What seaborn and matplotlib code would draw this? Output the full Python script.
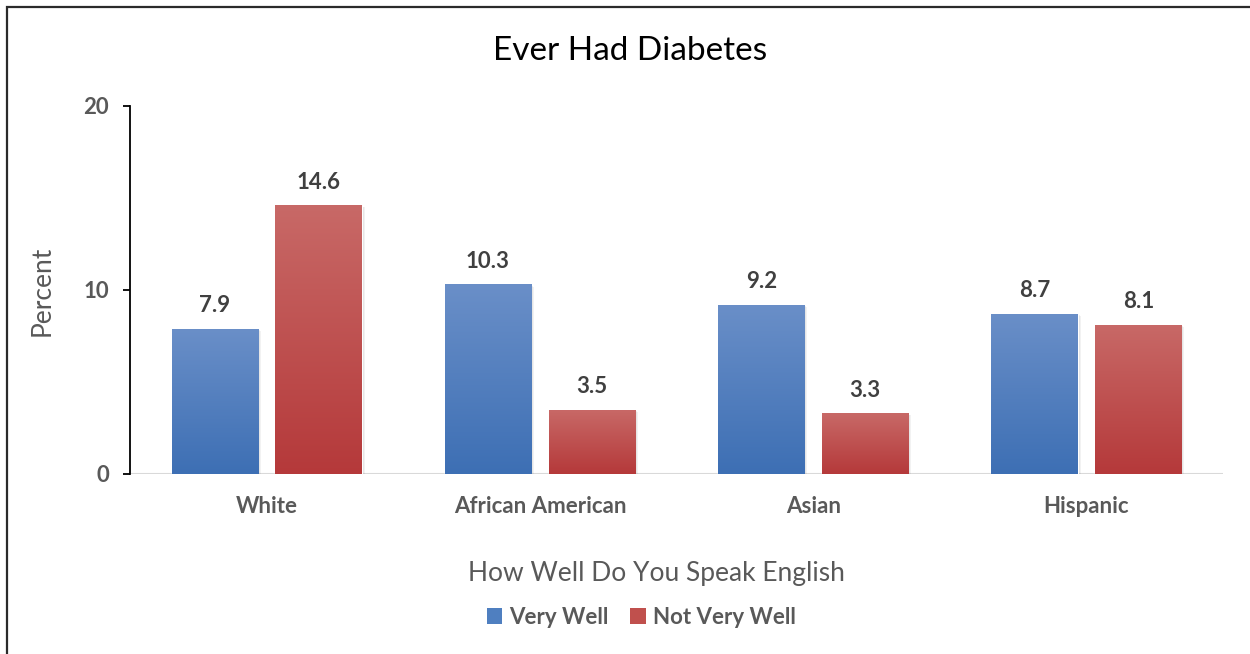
import numpy as np
import pandas as pd
import matplotlib
matplotlib.use("Agg")
import matplotlib.pyplot as plt
import matplotlib.transforms as mtransforms
from matplotlib.patches import Patch, Rectangle
from matplotlib.colors import LinearSegmentedColormap
import seaborn as sns

# Data
groups = ["White", "African American", "Asian", "Hispanic"]
series = ["Very Well", "Not Very Well"]
very_well = [7.9, 10.3, 9.2, 8.7]
not_very_well = [14.6, 3.5, 3.3, 8.1]
yticks = [0, 10, 20]

df = pd.DataFrame({
    "group": groups * 2,
    "series": [series[0]] * len(groups) + [series[1]] * len(groups),
    "value": very_well + not_very_well,
})

sns.set_theme(style="white")
plt.rcParams["font.family"] = ["Lato", "DejaVu Sans"]

W, H = 1250, 654
fig = plt.figure(figsize=(W / 100, H / 100), dpi=100)
fig.patch.set_facecolor("white")
ax = fig.add_axes([130 / W, 1 - 474 / H, (1223 - 130) / W, (474 - 106) / H])

base_colors = {"Very Well": "#4f7fc0", "Not Very Well": "#c0504d"}
gradients = {
    "Very Well": ("#3d6fb4", "#6a8fc8"),
    "Not Very Well": ("#b5393a", "#c86967"),
}

sns.barplot(data=df, x="group", y="value", hue="series", order=groups,
            hue_order=series, palette=base_colors, width=0.76, gap=0.17,
            saturation=1, errorbar=None, legend=False, ax=ax, zorder=3)

ax.set_ylim(0, 20)
ax.set_xlim(-0.5, len(groups) - 0.5)

# Vertical gradient fill plus a soft drop shadow on each bar
grad = np.linspace(0, 1, 256).reshape(-1, 1)
for bar in list(ax.patches):
    fc = matplotlib.colors.to_hex(bar.get_facecolor())
    name = series[0] if fc == base_colors[series[0]] else series[1]
    x0, w, h = bar.get_x(), bar.get_width(), bar.get_height()
    if h <= 0:
        continue
    for k, a in [(3, 0.05), (2, 0.07), (1, 0.09)]:
        off = mtransforms.ScaledTranslation(k * 0.72 / 72, -k * 0.5 / 72, fig.dpi_scale_trans)
        sh = Rectangle((x0, 0), w, h, transform=ax.transData + off,
                       facecolor="black", alpha=a, edgecolor="none", zorder=2)
        ax.add_patch(sh)
    cmap = LinearSegmentedColormap.from_list(name, gradients[name])
    im = ax.imshow(grad, cmap=cmap, extent=(x0, x0 + w, 0, h), origin="lower",
                   aspect="auto", zorder=4, interpolation="bicubic")
    im.set_clip_path(bar)

ax.set_ylim(0, 20)
ax.set_xlim(-0.5, len(groups) - 0.5)

# Value labels
n = len(groups)
for j, vals in enumerate([very_well, not_very_well]):
    for i, v in enumerate(vals):
        bar = ax.patches[j * n + i]
        xc = bar.get_x() + bar.get_width() / 2
        ax.annotate(f"{v:.1f}", (xc, v), xytext=(0, 9), textcoords="offset points",
                    ha="center", va="bottom", fontsize=16, fontweight="bold",
                    color="#404040", zorder=6)

# Axes styling
for s in ["top", "right", "bottom"]:
    ax.spines[s].set_visible(False)
ax.spines["left"].set_color("black")
ax.spines["left"].set_linewidth(1.3)
ax.axhline(0, color="#d9d9d9", lw=2.2, zorder=1)
ax.set_yticks(yticks)
ax.set_yticklabels([str(t) for t in yticks])
ax.tick_params(axis="y", which="major", left=True, length=5, width=1.3,
               color="black", direction="out", pad=10, labelsize=16,
               labelcolor="#595959")
ax.tick_params(axis="x", bottom=False, pad=10, labelsize=16, labelcolor="#595959")
for lab in ax.get_xticklabels() + ax.get_yticklabels():
    lab.set_fontweight("bold")
ax.set_xlabel("")
ax.set_ylabel("")
ax.grid(False)

# Titles and axis captions
fig.text(630 / W, 1 - 51 / H, "Ever Had Diabetes", ha="center", va="center",
         fontsize=24, color="black")
fig.text(42 / W, 1 - 291 / H, "Percent", ha="center", va="center",
         rotation=90, fontsize=19, color="#595959")
fig.text(656 / W, 1 - 573 / H, "How Well Do You Speak English", ha="center",
         va="center", fontsize=19, color="#595959")

# Legend
handles = [Patch(facecolor=base_colors[s], edgecolor="none", label=s) for s in series]
fig.legend(handles=handles, loc="center", bbox_to_anchor=(641 / W, 1 - 617 / H),
           ncol=2, frameon=False, prop={"weight": "bold", "size": 16},
           labelcolor="#595959", handlelength=0.7, handleheight=0.7,
           handletextpad=0.3, columnspacing=1.0)

# Chart frame
frame = Rectangle((7 / W, -0.1), 1.2, 1 - 7 / H + 0.1, transform=fig.transFigure,
                  fill=False, edgecolor="#2b2b2b", lw=1.6, zorder=0)
fig.patches.append(frame)

fig.savefig("out.png", dpi=100)
